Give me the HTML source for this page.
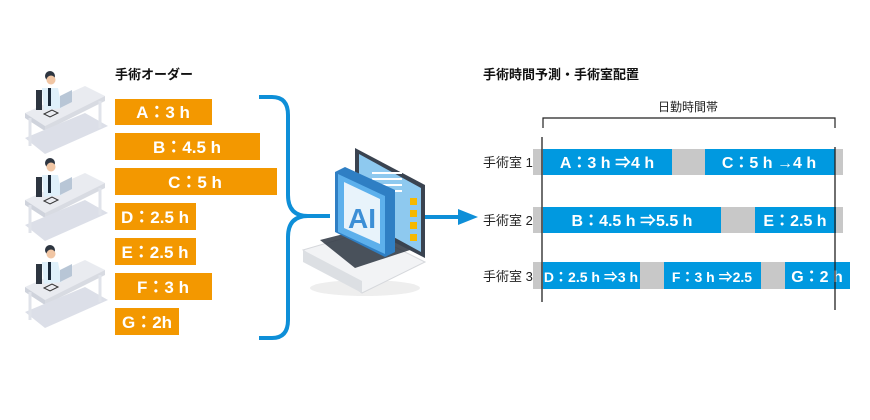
<!DOCTYPE html>
<html><head><meta charset="utf-8"><style>
body{margin:0;background:#fff;}
svg{display:block}
text{font-family:"Liberation Sans","Noto Sans CJK JP",sans-serif;}
.o{fill:#f39800}.ot{fill:#fff;font-size:17px;font-weight:bold}
.b{fill:#0099e0}.g{fill:#c8c8c8}.bt{fill:#fff;font-size:16px;font-weight:bold}
.l{fill:#222;font-size:13px}
</style></head><body>
<svg width="870" height="420" viewBox="0 0 870 420">
<defs>
<g id="desk">
<polygon points="25,45 85,18 105,28 45,58" fill="#e9ebf0"/>
<polygon points="25,45 45,58 45,63 25,50" fill="#cfd3dc"/>
<polygon points="45,58 105,28 105,33 45,63" fill="#d8dbe2"/>
<polygon points="25,70 85,45 108,58 45,86" fill="#dcdfe8"/>
<line x1="30" y1="50" x2="30" y2="78" stroke="#e0e3ea" stroke-width="3"/>
<line x1="100" y1="33" x2="100" y2="60" stroke="#e0e3ea" stroke-width="3"/>
<circle cx="50" cy="8" r="5" fill="#2d3540"/>
<circle cx="51" cy="12" r="4.5" fill="#f1c6a4"/>
<path d="M42,20 L58,20 L62,40 L44,42 Z" fill="#dff0fa"/>
<rect x="48" y="20" width="3" height="18" fill="#1b2a3a"/>
<rect x="36" y="22" width="6" height="20" fill="#2d3540"/>
<polygon points="60,28 72,22 72,34 60,40" fill="#b8c6d6"/>
<polygon points="44,46 52,42 58,45 50,49" fill="none" stroke="#333" stroke-width="1"/>
</g>
</defs>
<use href="#desk" x="0" y="68"/>
<use href="#desk" x="0" y="155"/>
<use href="#desk" x="0" y="242"/>
<text x="115" y="79" style="font-size:13px;font-weight:bold" fill="#111">手術オーダー</text>
<rect class="o" x="115" y="99" width="97" height="26"/><text class="ot" x="163" y="118" text-anchor="middle">A：3 h</text>
<rect class="o" x="115" y="133" width="145" height="27"/><text class="ot" x="187" y="153" text-anchor="middle">B：4.5 h</text>
<rect class="o" x="115" y="168" width="162" height="27"/><text class="ot" x="195" y="188" text-anchor="middle">C：5 h</text>
<rect class="o" x="115" y="203" width="81" height="27"/><text class="ot" x="155" y="223" text-anchor="middle">D：2.5 h</text>
<rect class="o" x="115" y="238" width="81" height="27"/><text class="ot" x="155" y="258" text-anchor="middle">E：2.5 h</text>
<rect class="o" x="115" y="273" width="97" height="27"/><text class="ot" x="163" y="293" text-anchor="middle">F：3 h</text>
<rect class="o" x="115" y="308" width="64" height="27"/><text class="ot" x="147" y="328" text-anchor="middle">G：2h</text>
<path d="M259,97 L272,97 Q288,97 288,115 L288,195 Q288,216 308,216 L330,216 M308,216 Q288,216 288,237 L288,320 Q288,338 272,338 L259,338" fill="none" stroke="#0e8fd8" stroke-width="4"/>
<ellipse cx="365" cy="288" rx="55" ry="8" fill="#eee"/>
<polygon points="303,250 365,232 425,262 362,293" fill="#f2f3f5" stroke="#d6d8dc"/>
<polygon points="303,250 362,281 362,293 303,262" fill="#dcdfe3"/>
<polygon points="320,240 375,226 410,250 355,268" fill="#2b3440" opacity="0.85"/>
<polygon points="355,148 425,185 425,258 355,222" fill="#3a4350"/>
<polygon points="359,154 421,188 421,252 359,218" fill="#8ec9ef"/>
<g fill="#fff"><rect x="372" y="172" width="30" height="2"/><rect x="372" y="178" width="30" height="2"/><rect x="372" y="184" width="30" height="2"/><rect x="372" y="190" width="30" height="2"/></g>
<g fill="#f5b800"><rect x="410" y="198" width="7" height="7"/><rect x="410" y="210" width="7" height="7"/><rect x="410" y="222" width="7" height="7"/><rect x="410" y="234" width="7" height="7"/></g>
<polygon points="335,172 345,167 395,190 395,252 385,257 335,232" fill="#2f7fc4"/>
<polygon points="338,174 385,196 385,254 338,232" fill="#5db0ec"/>
<polygon points="344,182 380,199 380,244 344,228" fill="#e8f3fb"/>
<text x="348" y="228" style="font-size:28px;font-weight:bold" fill="#3d8fd6">AI</text>
<line x1="425" y1="217" x2="460" y2="217" stroke="#0e8fd8" stroke-width="4"/>
<polygon points="458,209 478,217 458,225" fill="#0e8fd8"/>
<text x="483" y="79" style="font-size:13px;font-weight:bold" fill="#111">手術時間予測・手術室配置</text>
<text x="688" y="111" text-anchor="middle" class="l" style="font-size:12px">日勤時間帯</text>
<path d="M543,128 V118 H835 V128" fill="none" stroke="#222" stroke-width="1.2"/>
<rect class="g" x="533" y="149" width="310" height="26"/>
<rect class="b" x="543" y="149" width="129" height="26"/><text class="bt" x="607" y="168" text-anchor="middle">A：3 h ⇒4 h</text>
<rect class="b" x="705" y="149" width="130" height="26"/><text class="bt" x="769" y="168" text-anchor="middle">C：5 h →4 h</text>
<rect class="g" x="533" y="207" width="310" height="26"/>
<rect class="b" x="543" y="207" width="178" height="26"/><text class="bt" x="632" y="226" text-anchor="middle">B：4.5 h ⇒5.5 h</text>
<rect class="b" x="755" y="207" width="81" height="26"/><text class="bt" x="795" y="226" text-anchor="middle">E：2.5 h</text>
<rect class="g" x="533" y="262" width="310" height="27"/>
<rect class="b" x="543" y="262" width="97" height="27"/><text class="bt" x="591" y="282" text-anchor="middle" style="font-size:14px">D：2.5 h ⇒3 h</text>
<rect class="b" x="664" y="262" width="97" height="27"/><text class="bt" x="712" y="282" text-anchor="middle" style="font-size:14px">F：3 h ⇒2.5</text>
<rect class="b" x="785" y="262" width="65" height="27"/><text class="bt" x="817" y="282" text-anchor="middle">G：2 h</text>
<line x1="542" y1="137" x2="542" y2="302" stroke="#222" stroke-width="1.3"/>
<line x1="835" y1="147" x2="835" y2="310" stroke="#222" stroke-width="1.3"/>
<text x="483" y="167" class="l">手術室 1</text>
<text x="483" y="225" class="l">手術室 2</text>
<text x="483" y="281" class="l">手術室 3</text>
</svg>
</body></html>
